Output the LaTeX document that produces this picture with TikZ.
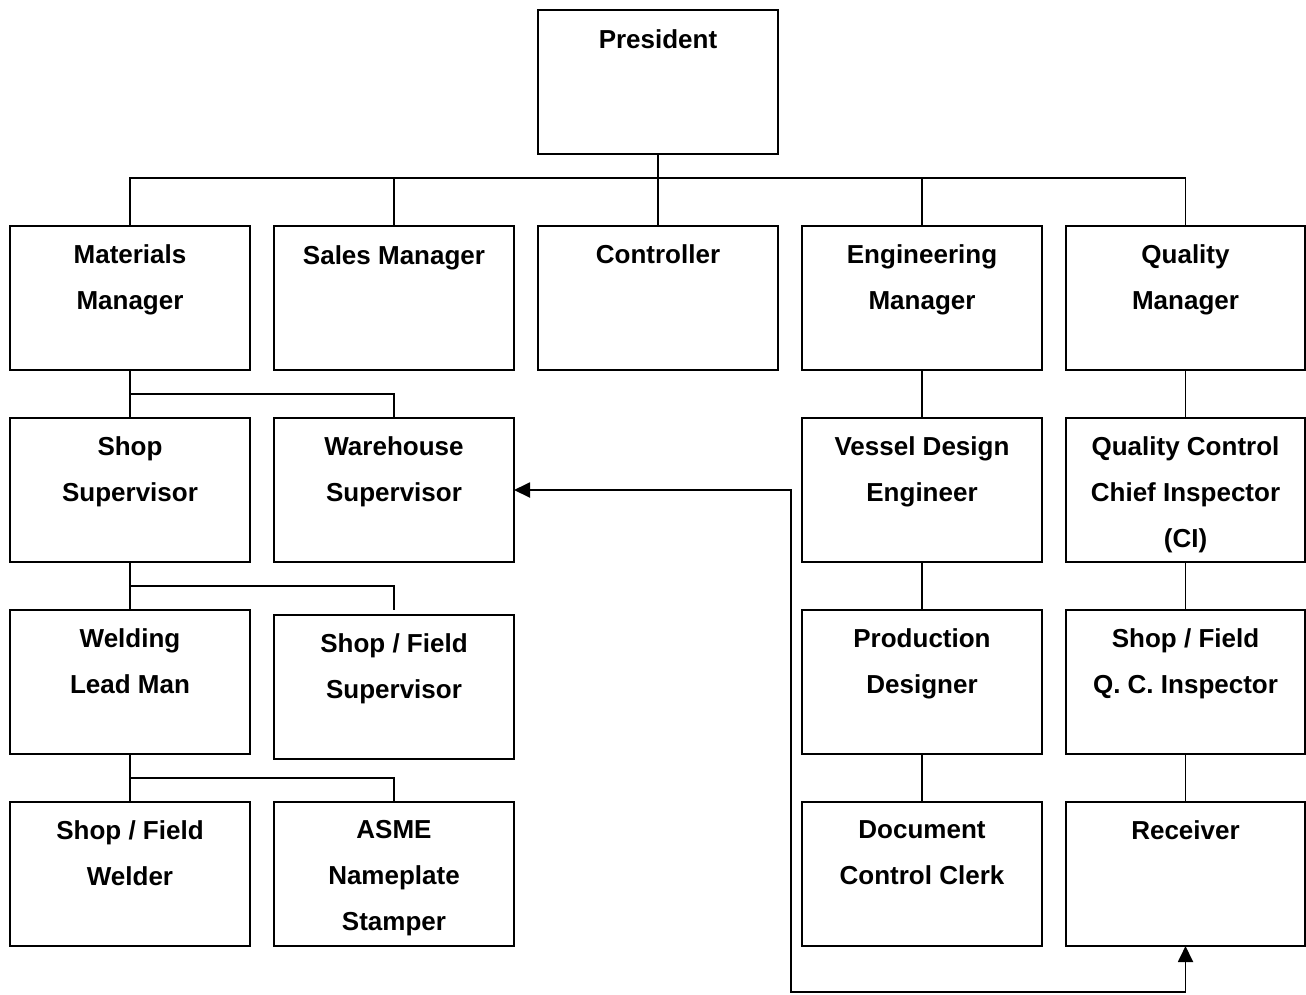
\documentclass[tikz,border=0pt]{standalone}
\usepackage{fontspec}
\setmainfont{Liberation Sans}
\usetikzlibrary{calc,arrows.meta}
\begin{document}
\begin{tikzpicture}[x=1pt,y=-1pt,
  box/.style={draw,line width=1.9pt,minimum width=240pt,minimum height=144pt,inner sep=0pt,outer sep=0pt,anchor=north west},
  boxr/.style={box,minimum width=239pt},
  txt/.style={font=\bfseries\fontsize{26}{46}\selectfont,align=center,anchor=north,inner sep=0pt},
  conn/.style={line width=1.9pt},
  arr/.style={line width=1.9pt,{Triangle[length=16pt,width=15pt]}-{Triangle[length=16pt,width=15pt]}}]
\useasboundingbox (0,0) rectangle (1306,994);
% boxes
\node[box] (pres) at (538,10) {};
\node[box] (mat) at (10,226) {};
\node[box] (sales) at (274,226) {};
\node[box] (ctrl) at (538,226) {};
\node[box] (eng) at (802,226) {};
\node[boxr] (qm) at (1066,226) {};
\node[box] (shop) at (10,418) {};
\node[box] (wh) at (274,418) {};
\node[box] (vde) at (802,418) {};
\node[boxr] (qcci) at (1066,418) {};
\node[box] (weld) at (10,610) {};
\node[box] (sfs) at (274,615) {};
\node[box] (pd) at (802,610) {};
\node[boxr] (qci) at (1066,610) {};
\node[box] (sfw) at (10,802) {};
\node[box] (asme) at (274,802) {};
\node[box] (dcc) at (802,802) {};
\node[boxr] (recv) at (1066,802) {};
% texts
\node[txt] (pres-t) at ($(pres.north)+(0,19)$) {President};
\node[txt] (mat-t) at ($(mat.north)+(0,18)$) {Materials\\Manager};
\node[txt] (sales-t) at ($(sales.north)+(0,19)$) {Sales Manager};
\node[txt] (ctrl-t) at ($(ctrl.north)+(0,18)$) {Controller};
\node[txt] (eng-t) at ($(eng.north)+(0,18)$) {Engineering\\Manager};
\node[txt] (qm-t) at ($(qm.north)+(0,18)$) {Quality\\Manager};
\node[txt] (shop-t) at ($(shop.north)+(0,18)$) {Shop\\Supervisor};
\node[txt] (wh-t) at ($(wh.north)+(0,18)$) {Warehouse\\Supervisor};
\node[txt] (vde-t) at ($(vde.north)+(0,18)$) {Vessel Design\\Engineer};
\node[txt] (qcci-t) at ($(qcci.north)+(0,18)$) {Quality Control\\Chief Inspector\\(CI)};
\node[txt] (weld-t) at ($(weld.north)+(0,18)$) {Welding\\Lead Man};
\node[txt] (sfs-t) at ($(sfs.north)+(0,18)$) {Shop / Field\\Supervisor};
\node[txt] (pd-t) at ($(pd.north)+(0,18)$) {Production\\Designer};
\node[txt] (qci-t) at ($(qci.north)+(0,18)$) {Shop / Field\\Q. C. Inspector};
\node[txt] (sfw-t) at ($(sfw.north)+(0,18)$) {Shop / Field\\Welder};
\node[txt] (asme-t) at ($(asme.north)+(0,18)$) {ASME\\Nameplate\\Stamper};
\node[txt] (dcc-t) at ($(dcc.north)+(0,18)$) {Document\\Control Clerk};
\node[txt] (recv-t) at ($(recv.north)+(0,18)$) {Receiver};
% connectors
\draw[conn] (pres.south) -- ++(0,24) coordinate (bus);
\draw[conn] (mat.north) |- (bus) -| (qm.north);
\draw[conn] (bus) -- (ctrl.north);
\draw[conn] (sales.north) -- (sales.north |- bus);
\draw[conn] (eng.north) -- (eng.north |- bus);
\coordinate (j1) at ($(mat.south)!0.5!(shop.north)$);
\draw[conn] (mat.south) -- (shop.north);
\draw[conn] (j1) -| (wh.north);
\coordinate (j2) at ($(shop.south)!0.5!(weld.north)$);
\coordinate (sfs-top) at ($(sfs.north)+(0,-5)$);
\draw[conn] (shop.south) -- (weld.north);
\draw[conn] (j2) -| (sfs-top);
\coordinate (j3) at ($(weld.south)!0.5!(sfw.north)$);
\draw[conn] (weld.south) -- (sfw.north);
\draw[conn] (j3) -| (asme.north);
\draw[conn] (eng.south) -- (vde.north);
\draw[conn] (vde.south) -- (pd.north);
\draw[conn] (pd.south) -- (dcc.north);
\draw[conn] (qm.south) -- (qcci.north);
\draw[conn] (qcci.south) -- (qci.north);
\draw[conn] (qci.south) -- (recv.north);
\coordinate (c1) at (791,992);
\draw[arr] (wh.east) -| (c1) -| (recv.south);
\end{tikzpicture}
\end{document}
